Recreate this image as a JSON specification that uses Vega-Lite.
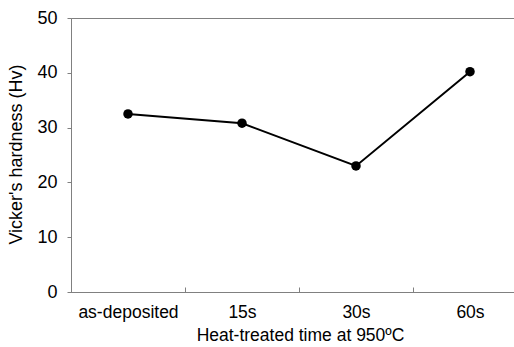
{
  "$schema": "https://vega.github.io/schema/vega-lite/v6.json",
  "autosize": "none",
  "padding": {"left": 71, "top": 18, "right": 0, "bottom": 55},
  "width": 456,
  "height": 274,
  "background": "white",
  "config": {
    "view": {"stroke": "#808080", "strokeWidth": 1},
    "font": "Liberation Sans"
  },
  "data": {
    "values": [
      {"time": "as-deposited", "hv": 32.5},
      {"time": "15s", "hv": 30.8},
      {"time": "30s", "hv": 23.0},
      {"time": "60s", "hv": 40.2}
    ]
  },
  "encoding": {
    "x": {
      "field": "time", "type": "nominal", "sort": null,
      "scale": {"paddingInner": 0, "paddingOuter": 0},
      "axis": {
        "title": "Heat-treated time at 950ºC",
        "labelAngle": 0,
        "tickBand": "extent",
        "tickSize": -5,
        "tickColor": "#808080",
        "domainColor": "#808080",
        "labelFontSize": 17.5,
        "labelColor": "black",
        "labelPadding": 16,
        "titleFontSize": 17.5,
        "titleFontWeight": "normal",
        "titleColor": "black",
        "titlePadding": 6,
        "titleX": 229
      }
    },
    "y": {
      "field": "hv", "type": "quantitative",
      "scale": {"domain": [0, 50]},
      "axis": {
        "title": "Vicker's hardness (Hv)",
        "values": [0, 10, 20, 30, 40, 50],
        "grid": false,
        "tickSize": 4,
        "tickColor": "#808080",
        "domainColor": "#808080",
        "labelFontSize": 18,
        "labelColor": "black",
        "labelPadding": 10,
        "titleFontSize": 18,
        "titleFontWeight": "normal",
        "titleColor": "black",
        "titlePadding": 11,
        "titleY": 136
      }
    }
  },
  "layer": [
    {"mark": {"type": "line", "color": "black", "strokeWidth": 2}},
    {"mark": {"type": "point", "filled": true, "color": "black", "opacity": 1, "size": 90}}
  ]
}
